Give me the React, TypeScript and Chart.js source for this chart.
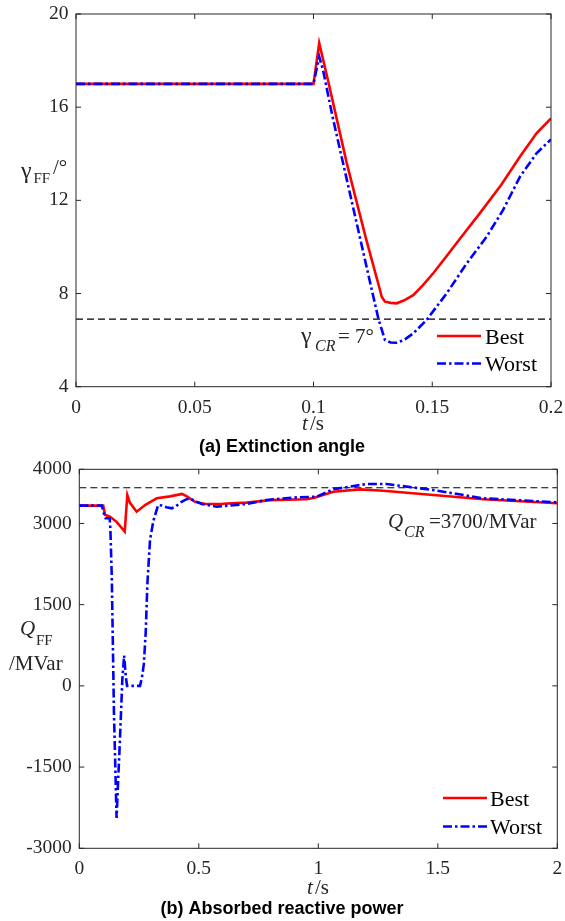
import React, { useEffect, useRef } from "react";
import { Chart, registerables } from "chart.js";
Chart.register(...registerables);

// ---------- (a) Extinction angle ----------
const tBestA = [0, 0.1, 0.1024, 0.106, 0.11, 0.114, 0.118, 0.122, 0.126, 0.128, 0.1287, 0.1301, 0.1325, 0.135, 0.138, 0.142, 0.146, 0.1504, 0.156, 0.1623, 0.17, 0.179, 0.1869, 0.1939, 0.2];
const bestA = [17.0, 17.0, 18.75, 17.2, 15.4, 13.6, 12.0, 10.4, 8.9, 8.15, 7.86, 7.65, 7.6, 7.58, 7.7, 7.93, 8.35, 8.87, 9.6, 10.44, 11.44, 12.66, 13.87, 14.88, 15.52];
const tWorstA = [0, 0.1, 0.1024, 0.104, 0.108, 0.112, 0.116, 0.12, 0.124, 0.1273, 0.1301, 0.1325, 0.135, 0.138, 0.142, 0.1476, 0.156, 0.1645, 0.1729, 0.1798, 0.1869, 0.1939, 0.2];
const worstA = [17.0, 17.0, 18.17, 17.6, 15.6, 13.8, 12.0, 10.2, 8.4, 6.93, 6.0, 5.9, 5.89, 6.0, 6.29, 6.86, 8.0, 9.29, 10.44, 11.58, 13.01, 14.02, 14.62];
const gammaCR = 6.9;
const xTicksA = [0, 0.05, 0.1, 0.15, 0.2];
const yTicksA = [4, 8, 12, 16, 20];

// ---------- (b) Absorbed reactive power ----------
const tBestB = [0, 0.1, 0.1075, 0.128, 0.156, 0.19, 0.201, 0.212, 0.24, 0.275, 0.324, 0.38, 0.43, 0.45, 0.484, 0.526, 0.6, 0.7, 0.8, 0.95, 0.98, 1.063, 1.175, 1.272, 1.481, 1.69, 2.0];
const bestB = [3330, 3330, 3160, 3125, 3030, 2850, 3525, 3380, 3217, 3340, 3464, 3500, 3545, 3500, 3400, 3360, 3365, 3385, 3430, 3446, 3470, 3587, 3630, 3605, 3525, 3446, 3372];
const tWorstB = [0, 0.094, 0.105, 0.11, 0.12, 0.127, 0.13, 0.136, 0.145, 0.156, 0.163, 0.17, 0.18, 0.1875, 0.195, 0.2, 0.254, 0.262, 0.27, 0.278, 0.285, 0.296, 0.31, 0.33, 0.345, 0.365, 0.387, 0.405, 0.428, 0.445, 0.463, 0.485, 0.512, 0.575, 0.7, 0.784, 0.9, 0.993, 1.063, 1.2, 1.285, 1.48, 1.69, 2.0];
const worstB = [3330, 3330, 3150, 3095, 3095, 3094, 2900, 2000, -500, -2440, -1700, -1000, 110, 560, 150, 0, 0, 150, 400, 1000, 1900, 2700, 3050, 3340, 3330, 3300, 3280, 3320, 3400, 3440, 3464, 3410, 3360, 3310, 3360, 3433, 3480, 3494, 3630, 3728, 3728, 3618, 3464, 3390];
const qCR = 3660;
const xTicksB = [0, 0.5, 1, 1.5, 2];
const yTicksB = [-3000, -1500, 0, 1500, 3000, 4000];

const legendLabels = ["Best", "Worst"];

const SERIF = '"Liberation Serif", "Times New Roman", serif';
const SANS = '"Liberation Sans", Arial, sans-serif';
const AXIS = "#262626";
const RED = "#ff0000";
const BLUE = "#0000ff";
const LW = 2.6;
const BLUE_DASH = [9, 3, 2.5, 3];

type Piece = { t: string; x: number; y: number; size: number; italic?: boolean; bold?: boolean; sans?: boolean; center?: boolean };

type Cfg = {
  bestT: number[]; bestV: number[]; worstT: number[]; worstV: number[]; refV: number;
  xMin: number; xMax: number; yMin: number; yMax: number; xTicks: number[]; yTicks: number[];
  left: number; right: number; top: number; bottom: number; width: number; height: number; offsetY: number;
  texts: Piece[]; legend: { x1: number; x2: number; tx: number; ys: number[] };
};

function pts(t: number[], v: number[]) {
  return t.map((x, i) => ({ x, y: v[i] }));
}

function buildConfig(c: Cfg): any {
  const framePlugin = {
    id: "frame",
    afterDraw(chart: any) {
      const ctx: CanvasRenderingContext2D = chart.ctx;
      const { left, right, top, bottom } = chart.chartArea;
      const xs = chart.scales.x;
      const ys = chart.scales.y;
      ctx.save();
      ctx.strokeStyle = AXIS;
      ctx.lineWidth = 1;
      ctx.setLineDash([]);
      ctx.strokeRect(left, top, right - left, bottom - top);
      const tl = 5;
      ctx.beginPath();
      for (const v of c.xTicks) {
        const p = xs.getPixelForValue(v);
        ctx.moveTo(p, bottom);
        ctx.lineTo(p, bottom - tl);
        ctx.moveTo(p, top);
        ctx.lineTo(p, top + tl);
      }
      for (const v of c.yTicks) {
        const p = ys.getPixelForValue(v);
        ctx.moveTo(left, p);
        ctx.lineTo(left + tl, p);
        ctx.moveTo(right, p);
        ctx.lineTo(right - tl, p);
      }
      ctx.stroke();

      // legend
      const L = c.legend;
      const styles = [
        { color: RED, dash: [] as number[] },
        { color: BLUE, dash: BLUE_DASH },
      ];
      styles.forEach((s, i) => {
        const y = L.ys[i] - c.offsetY;
        ctx.strokeStyle = s.color;
        ctx.lineWidth = LW;
        ctx.setLineDash(s.dash);
        ctx.beginPath();
        ctx.moveTo(L.x1, y);
        ctx.lineTo(L.x2, y);
        ctx.stroke();
        ctx.setLineDash([]);
        ctx.fillStyle = "#000";
        ctx.font = `22px ${SERIF}`;
        ctx.textAlign = "left";
        ctx.textBaseline = "alphabetic";
        ctx.fillText(legendLabels[i], L.tx, y + 7.5);
      });

      // texts
      for (const p of c.texts) {
        ctx.font = `${p.italic ? "italic " : ""}${p.bold ? "bold " : ""}${p.size}px ${p.sans ? SANS : SERIF}`;
        ctx.fillStyle = p.bold ? "#000" : AXIS;
        ctx.textAlign = p.center ? "center" : "left";
        ctx.textBaseline = "alphabetic";
        ctx.fillText(p.t, p.x, p.y - c.offsetY);
      }
      ctx.restore();
    },
  };

  const tickFont = { family: SERIF, size: 19.5 };
  return {
    type: "line",
    data: {
      datasets: [
        {
          label: "Best",
          data: pts(c.bestT, c.bestV),
          borderColor: RED,
          borderWidth: LW,
          pointRadius: 0,
          tension: 0,
          fill: false,
          order: 1,
        },
        {
          label: "Worst",
          data: pts(c.worstT, c.worstV),
          borderColor: BLUE,
          borderWidth: LW,
          borderDash: BLUE_DASH,
          pointRadius: 0,
          tension: 0,
          fill: false,
          order: 0,
        },
        {
          label: "CR",
          data: [
            { x: c.xMin, y: c.refV },
            { x: c.xMax, y: c.refV },
          ],
          borderColor: "#000",
          borderWidth: 1.1,
          borderDash: [7, 4],
          pointRadius: 0,
          fill: false,
          order: 2,
        },
      ],
    },
    options: {
      responsive: false,
      animation: false,
      devicePixelRatio: 1,
      layout: { padding: { left: 0, top: c.top - c.offsetY, right: c.width - c.right, bottom: 0 } },
      plugins: { legend: { display: false }, tooltip: { enabled: false }, title: { display: false } },
      scales: {
        x: {
          type: "linear",
          min: c.xMin,
          max: c.xMax,
          grid: { display: false, drawTicks: false },
          border: { display: false },
          afterBuildTicks: (s: any) => {
            s.ticks = c.xTicks.map((value) => ({ value }));
          },
          afterFit: (s: any) => {
            s.height = c.height - (c.bottom - c.offsetY);
            s.paddingLeft = 0;
            s.paddingRight = 0;
            s.paddingTop = 0;
            s.paddingBottom = 0;
          },
          ticks: { font: tickFont, color: AXIS, padding: 9, maxRotation: 0, autoSkip: false, callback: (v: any) => String(v) },
        },
        y: {
          type: "linear",
          min: c.yMin,
          max: c.yMax,
          grid: { display: false, drawTicks: false },
          border: { display: false },
          afterBuildTicks: (s: any) => {
            s.ticks = c.yTicks.map((value) => ({ value }));
          },
          afterFit: (s: any) => {
            s.width = c.left;
            s.paddingLeft = 0;
            s.paddingRight = 0;
            s.paddingTop = 0;
            s.paddingBottom = 0;
          },
          ticks: { font: tickFont, color: AXIS, padding: 7.5, autoSkip: false, callback: (v: any) => String(v) },
        },
      },
    },
    plugins: [framePlugin],
  };
}

const cfgA: Cfg = {
  bestT: tBestA, bestV: bestA, worstT: tWorstA, worstV: worstA, refV: gammaCR,
  xMin: 0, xMax: 0.2, yMin: 4, yMax: 20, xTicks: xTicksA, yTicks: yTicksA,
  left: 76, right: 551, top: 14, bottom: 386.7, width: 565, height: 460, offsetY: 0,
  texts: [
    { t: "γ", x: 21, y: 178, size: 24 },
    { t: "FF", x: 33.5, y: 183, size: 15 },
    { t: "/°", x: 53, y: 174, size: 21 },
    { t: "γ", x: 301, y: 343, size: 24 },
    { t: "CR", x: 315, y: 351, size: 16, italic: true },
    { t: "= 7°", x: 338, y: 343, size: 21 },
    { t: "t", x: 302, y: 430, size: 21, italic: true },
    { t: "/s", x: 310, y: 430, size: 21 },
    { t: "(a) Extinction angle", x: 282, y: 452, size: 18, bold: true, sans: true, center: true },
  ],
  legend: { x1: 437, x2: 481, tx: 485, ys: [336, 363.5] },
};

const cfgB: Cfg = {
  bestT: tBestB, bestV: bestB, worstT: tWorstB, worstV: worstB, refV: qCR,
  xMin: 0, xMax: 2, yMin: -3000, yMax: 4000, xTicks: xTicksB, yTicks: yTicksB,
  left: 79.3, right: 557.3, top: 469.3, bottom: 848.3, width: 565, height: 461, offsetY: 460,
  texts: [
    { t: "Q", x: 20, y: 635, size: 21, italic: true },
    { t: "FF", x: 36, y: 645, size: 15 },
    { t: "/MVar", x: 9, y: 670, size: 21 },
    { t: "Q", x: 388, y: 528, size: 21, italic: true },
    { t: "CR", x: 404, y: 537, size: 16, italic: true },
    { t: "=3700/MVar", x: 429, y: 528, size: 21 },
    { t: "t", x: 307, y: 894, size: 21, italic: true },
    { t: "/s", x: 315, y: 894, size: 21 },
    { t: "(b) Absorbed reactive power", x: 282, y: 914, size: 18, bold: true, sans: true, center: true },
  ],
  legend: { x1: 443, x2: 487, tx: 490, ys: [798, 826.5] },
};

export default function App() {
  const refA = useRef<HTMLCanvasElement>(null);
  const refB = useRef<HTMLCanvasElement>(null);
  useEffect(() => {
    const a = new Chart(refA.current as HTMLCanvasElement, buildConfig(cfgA));
    const b = new Chart(refB.current as HTMLCanvasElement, buildConfig(cfgB));
    return () => {
      a.destroy();
      b.destroy();
    };
  }, []);
  return (
    <div style={{ position: "absolute", left: 0, top: 0, width: 565, height: 921, background: "#fff", overflow: "hidden" }}>
      <canvas ref={refA} width={565} height={460} style={{ position: "absolute", left: 0, top: 0, width: 565, height: 460 }} />
      <canvas ref={refB} width={565} height={461} style={{ position: "absolute", left: 0, top: 460, width: 565, height: 461 }} />
    </div>
  );
}
